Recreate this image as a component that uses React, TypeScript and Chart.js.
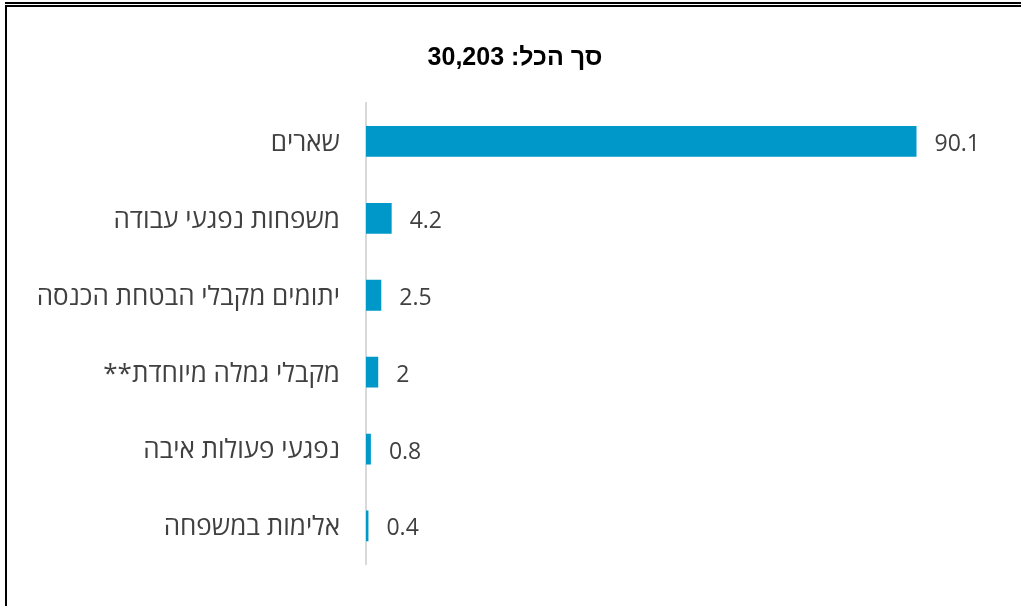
import React, { useEffect, useRef } from "react";
import { Chart, registerables } from "chart.js";

Chart.register(...registerables);

const categories = [
  "שארים",
  "משפחות נפגעי עבודה",
  "יתומים מקבלי הבטחת הכנסה",
  "מקבלי גמלה מיוחדת**",
  "נפגעי פעולות איבה",
  "אלימות במשפחה",
];
const values = [90.1, 4.2, 2.5, 2, 0.8, 0.4];
const valueLabels = ["90.1", "4.2", "2.5", "2", "0.8", "0.4"];
const titleText = "סך הכל: 30,203";

const FONT = "'Open Sans', 'Noto Sans', 'DejaVu Sans', sans-serif";

const framePlugin = {
  id: "frame",
  beforeDraw(chart: any) {
    const ctx = chart.ctx;
    ctx.save();
    ctx.fillStyle = "#ffffff";
    ctx.fillRect(0, 0, chart.width, chart.height);
    ctx.fillStyle = "#000000";
    ctx.fillRect(5, 2, chart.width - 5, 2);
    ctx.fillRect(5, 5, chart.width - 5, 2);
    ctx.fillRect(5, 5, 2, chart.height - 5);
    ctx.restore();
    ctx.direction = "rtl";
  },
  afterDraw(chart: any) {
    const ctx = chart.ctx;
    ctx.save();
    ctx.direction = "rtl";
    ctx.fillStyle = "#000000";
    ctx.font = `bold 25px 'Liberation Sans', Arial, sans-serif`;
    ctx.textAlign = "center";
    ctx.textBaseline = "middle";
    ctx.fillText(titleText, 515, 58);
    ctx.restore();
  },
};

const labelPlugin = {
  id: "valueLabels",
  afterDatasetsDraw(chart: any) {
    const ctx = chart.ctx;
    const meta = chart.getDatasetMeta(0);
    ctx.save();
    ctx.direction = "ltr";
    ctx.fillStyle = "#404040";
    ctx.font = `23px ${FONT}`;
    ctx.textAlign = "left";
    ctx.textBaseline = "middle";
    meta.data.forEach((bar: any, i: number) => {
      ctx.fillText(valueLabels[i], bar.x + 18, bar.y + 3);
    });
    ctx.restore();
  },
};

export default function App() {
  const ref = useRef<HTMLCanvasElement | null>(null);
  useEffect(() => {
    document.body.style.margin = "0";
    const canvas = ref.current!;
    const chart = new Chart(canvas, {
      type: "bar",
      data: {
        labels: categories,
        datasets: [
          {
            data: values,
            backgroundColor: "#0098C9",
            borderWidth: 0,
            categoryPercentage: 1,
            barPercentage: 0.4,
          },
        ],
      },
      options: {
        indexAxis: "y",
        responsive: false,
        animation: false,
        devicePixelRatio: 1,
        layout: { padding: { top: 103, bottom: 40, left: 0, right: 44 } },
        plugins: {
          legend: { display: false },
          title: { display: false },
          tooltip: { enabled: false },
        },
        scales: {
          x: {
            display: false,
            min: 0,
            max: 100,
          },
          y: {
            afterFit(scale: any) {
              scale.width = 366;
            },
            grid: { display: false, drawTicks: false },
            border: { display: true, color: "#d9d9d9", width: 2 },
            ticks: {
              padding: 26,
              labelOffset: 2,
              color: "#404040",
              font: { family: FONT, size: 26 },
            },
          },
        },
      } as any,
      plugins: [framePlugin, labelPlugin],
    });
    return () => chart.destroy();
  }, []);
  return (
    <div style={{ position: "absolute", left: 0, top: 0, width: 1021, height: 606 }}>
      <canvas ref={ref} width={1021} height={606} dir="rtl" style={{ direction: "rtl", display: "block" }} />
    </div>
  );
}
